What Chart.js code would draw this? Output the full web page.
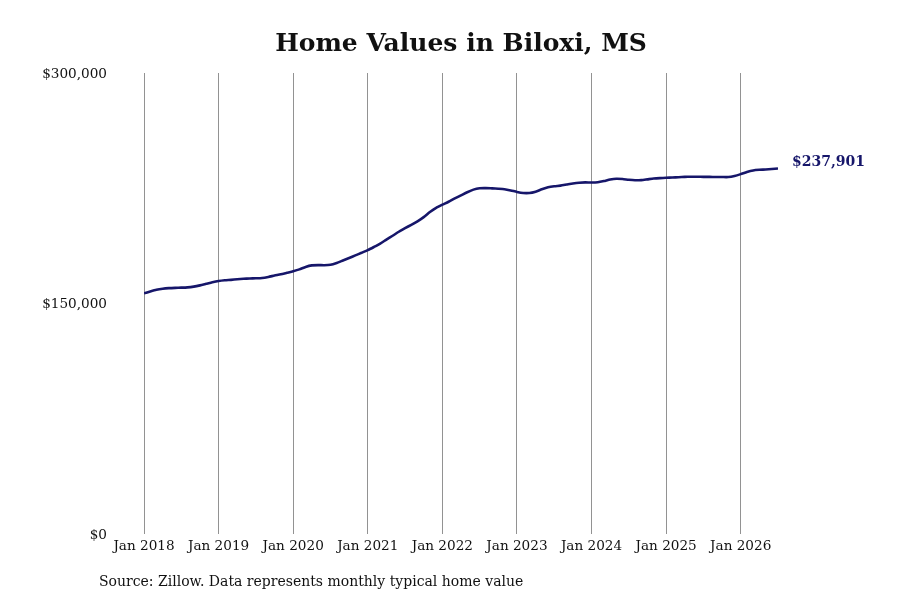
<!DOCTYPE html>
<html>
<head>
<meta charset="utf-8">
<script src="https://cdn.jsdelivr.net/npm/chart.js@4"></script>
<style>
  html, body { margin: 0; padding: 0; background: #fff; }
  #wrap { position: relative; width: 900px; height: 600px; }
  #title { position: absolute; left: 0; width: 922px; top: 28px; text-align: center;
           font: bold 25px "DejaVu Serif", serif; color: #111; }
  #source { position: absolute; left: 99px; top: 573px; font: 14px "DejaVu Serif", serif; color: #111; }
  canvas { position: absolute; left: 0; top: 0; }
</style>
</head>
<body>
<div id="wrap">
  <canvas id="c" width="900" height="600"></canvas>
  <div id="title">Home Values in Biloxi, MS</div>
  <div id="source">Source: Zillow. Data represents monthly typical home value</div>
</div>
<script>
// Months since Jan 2018 (0 = Jan 2018)
const startYear = 2018;
const homeValues = [
  // 2018
  156600, 157800, 158900, 159600, 160000, 160200, 160300, 160500, 161000, 161800, 162800, 163800,
  // 2019
  164600, 165100, 165400, 165800, 166100, 166300, 166400, 166600, 167300, 168200, 169000, 170000,
  // 2020
  171000, 172200, 173800, 174800, 175000, 174900, 175200, 176400, 178000, 179600, 181300, 183000,
  // 2021
  184700, 186800, 189000, 191600, 194100, 196700, 199000, 201200, 203500, 206200, 209500, 212300,
  // 2022
  214300, 216200, 218400, 220400, 222400, 224100, 225000, 225100, 224900, 224700, 224400, 223600,
  // 2023
  222600, 221900, 221900, 222800, 224300, 225600, 226300, 226700, 227400, 228100, 228600, 228800,
  // 2024
  228700, 228900, 229700, 230700, 231200, 231000, 230500, 230200, 230300, 230800, 231300, 231600,
  // 2025
  231800, 232000, 232200, 232400, 232500, 232500, 232400, 232400, 232300, 232300, 232300, 233000,
  // 2026
  234200, 235600, 236600, 237000, 237200, 237500, 237901
];
const xTickMonths = [0, 12, 24, 36, 48, 60, 72, 84, 96];
const xTickLabels = ["Jan 2018", "Jan 2019", "Jan 2020", "Jan 2021", "Jan 2022", "Jan 2023", "Jan 2024", "Jan 2025", "Jan 2026"];
const yTickValues = [0, 150000, 300000];
const yTickLabels = ["$0", "$150,000", "$300,000"];
const endLabel = "$237,901";

const points = homeValues.map((v, i) => ({ x: i, y: v }));
const navy = '#16166a';

const endLabelPlugin = {
  id: 'endLabel',
  afterDatasetsDraw(chart) {
    const meta = chart.getDatasetMeta(0);
    const last = meta.data[meta.data.length - 1];
    const ctx = chart.ctx;
    ctx.save();
    ctx.font = 'bold 14px "DejaVu Serif", serif';
    ctx.fillStyle = navy;
    ctx.textAlign = 'left';
    ctx.textBaseline = 'middle';
    ctx.fillText(endLabel, last.x + 14, last.y - 6);
    ctx.restore();
  }
};

new Chart(document.getElementById('c'), {
  type: 'line',
  data: {
    datasets: [{
      data: points,
      borderColor: navy,
      borderWidth: 2.6,
      pointRadius: 0,
      tension: 0.2,
      fill: false
    }]
  },
  options: {
    responsive: false,
    animation: false,
    layout: { padding: { left: 0, right: 122, top: 73, bottom: 0 } },
    plugins: { legend: { display: false }, tooltip: { enabled: false }, title: { display: false } },
    scales: {
      x: {
        type: 'linear',
        min: 0,
        max: homeValues.length - 1,
        afterFit(s) { s.height = 66; },
        afterBuildTicks(s) { s.ticks = xTickMonths.map(v => ({ value: v })); },
        grid: { display: true, color: '#929292', lineWidth: 1, drawTicks: false },
        border: { display: false },
        ticks: {
          padding: 4,
          maxRotation: 0,
          autoSkip: false,
          color: '#111',
          font: { family: '"DejaVu Serif", serif', size: 13.6 },
          callback(v) { const i = xTickMonths.indexOf(v); return i >= 0 ? xTickLabels[i] : ''; }
        }
      },
      y: {
        min: 0,
        max: 300000,
        afterFit(s) { s.width = 144; },
        afterBuildTicks(s) { s.ticks = yTickValues.map(v => ({ value: v })); },
        grid: { display: false },
        border: { display: false },
        ticks: {
          padding: 29,
          labelOffset: 1,
          color: '#111',
          font: { family: '"DejaVu Serif", serif', size: 13.6 },
          callback(v) { const i = yTickValues.indexOf(v); return i >= 0 ? yTickLabels[i] : ''; }
        }
      }
    }
  },
  plugins: [endLabelPlugin]
});
</script>
</body>
</html>
